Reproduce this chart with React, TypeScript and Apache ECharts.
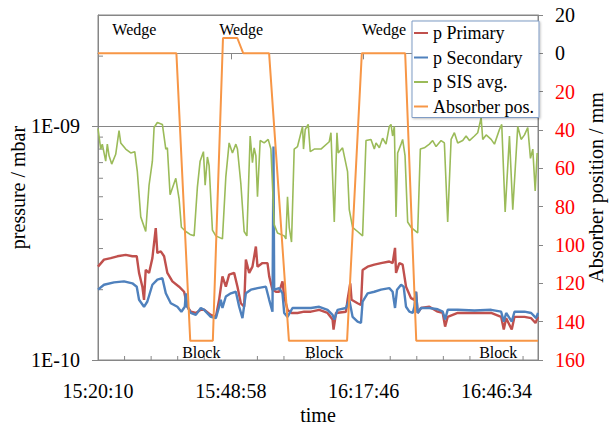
import React, { useEffect, useRef } from "react";
import * as echarts from "echarts";

// time axis: minutes after 15:20:10
const START_SECONDS = 15 * 3600 + 20 * 60 + 10;
const X_MAX = 95.4;
const X_INTERVAL = 28.8;

const seriesNames = ["p Primary", "p Secondary", "p SIS avg.", "Absorber pos."];
const seriesColors = ["#c0504d", "#4f81bd", "#9bbb59", "#f79646"];

// p SIS avg. (mbar)
const sisT = [0, 0.22, 0.59, 0.93, 1.67, 2.02, 2.39, 2.97, 3.84, 4.56, 4.93, 6.01, 7.1, 7.97, 8.53, 9.27, 10.35, 11.07, 11.79, 12.16, 12.87, 13.96, 14.7, 15.04, 15.63, 16.87, 17.58, 18.08, 19.04, 19.97, 20.84, 21.55, 22.14, 22.86, 23.23, 23.72, 24.09, 24.81, 25.55, 26.98, 27.72, 28.43, 29.15, 29.89, 30.24, 30.97, 31.69, 32.28, 32.99, 33.49, 33.86, 34.23, 34.58, 35.16, 36.03, 36.9, 37.49, 38.2, 38.92, 40.37, 40.74, 41.09, 41.46, 41.96, 42.54, 43.26, 44.35, 44.56, 44.93, 45.58, 46.02, 46.89, 48.34, 50.14, 50.51, 51.23, 51.81, 52.09, 53.03, 54.11, 54.48, 55.2, 56.28, 57.37, 58.11, 59.19, 59.91, 60.28, 61.0, 61.71, 62.45, 63.16, 63.53, 63.88, 64.25, 64.62, 64.97, 65.71, 66.05, 66.57, 67.14, 67.87, 69.31, 69.89, 70.76, 71.85, 72.56, 73.3, 74.39, 75.1, 75.82, 76.56, 77.27, 77.99, 79.08, 79.81, 80.53, 81.62, 82.33, 83.07, 83.42, 84.16, 85.24, 85.96, 87.04, 87.54, 88.28, 89.21, 89.93, 91.01, 91.75, 92.47, 93.18, 93.77, 94.27, 94.79, 95.22];
const sisP = [9.8e-10, 9.1e-10, 8.0e-10, 8.4e-10, 7.1e-10, 8.4e-10, 7.5e-10, 6.9e-10, 7.6e-10, 9.6e-10, 8.5e-10, 8.0e-10, 7.7e-10, 7.8e-10, 6.4e-10, 4.1e-10, 3.55e-10, 5.6e-10, 7.1e-10, 9.9e-10, 1.04e-9, 1.02e-9, 8.0e-10, 8.1e-10, 5.1e-10, 6.0e-10, 4.9e-10, 3.7e-10, 3.55e-10, 3.45e-10, 3.4e-10, 5.5e-10, 7.1e-10, 7.8e-10, 5.6e-10, 7.4e-10, 6.8e-10, 3.6e-10, 3.4e-10, 3.3e-10, 6.1e-10, 8.5e-10, 7.7e-10, 8.4e-10, 8.0e-10, 5.7e-10, 3.55e-10, 3.4e-10, 9.1e-10, 7.0e-10, 8.1e-10, 7.5e-10, 5.0e-10, 8.7e-10, 8.5e-10, 8.8e-10, 8.0e-10, 3.8e-10, 3.5e-10, 3.4e-10, 3.3e-10, 5.0e-10, 3.7e-10, 3.2e-10, 8.0e-10, 8.2e-10, 1.0e-9, 8.0e-10, 9.7e-10, 1.02e-9, 7.8e-10, 8.0e-10, 8.0e-10, 8.6e-10, 9.4e-10, 3.9e-10, 9.4e-10, 7.7e-10, 8.1e-10, 6.4e-10, 4.4e-10, 3.7e-10, 3.55e-10, 3.4e-10, 8.7e-10, 8.8e-10, 8.0e-10, 8.5e-10, 8.1e-10, 8.9e-10, 8.4e-10, 1.0e-9, 1.02e-9, 9.1e-10, 1.0e-9, 4.1e-10, 7.7e-10, 8.4e-10, 8.8e-10, 7.5e-10, 3.9e-10, 3.7e-10, 3.5e-10, 8.0e-10, 8.1e-10, 8.4e-10, 8.7e-10, 8.2e-10, 8.7e-10, 8.5e-10, 3.9e-10, 8.8e-10, 9.4e-10, 8.5e-10, 8.7e-10, 9.1e-10, 8.7e-10, 9.1e-10, 9.4e-10, 1.09e-9, 8.8e-10, 9.2e-10, 8.8e-10, 8.4e-10, 9.7e-10, 1.02e-9, 4.3e-10, 9.1e-10, 4.4e-10, 1.0e-9, 8.8e-10, 9.2e-10, 9.9e-10, 7.3e-10, 8.0e-10, 5.3e-10, 7.7e-10];

// p Primary (mbar)
const primT = [0, 1.3, 2.76, 4.19, 6.01, 7.45, 8.4, 8.9, 9.62, 9.98, 10.35, 11.07, 11.79, 12.52, 12.87, 13.61, 14.33, 15.04, 16.13, 17.58, 18.67, 19.38, 20.12, 21.21, 22.29, 23.01, 24.46, 25.55, 26.26, 26.98, 27.72, 28.43, 29.52, 30.24, 30.97, 31.69, 32.06, 32.78, 33.49, 34.23, 34.58, 35.66, 36.75, 37.12, 37.83, 38.57, 39.29, 40.0, 40.37, 41.09, 41.96, 43.26, 44.71, 46.17, 47.97, 49.77, 50.86, 51.07, 51.6, 53.77, 54.11, 54.7, 54.98, 56.28, 57.02, 57.37, 58.46, 59.91, 61.36, 63.16, 63.88, 64.4, 64.62, 65.34, 66.05, 66.79, 67.87, 68.59, 68.96, 69.31, 70.05, 71.85, 73.65, 74.74, 75.26, 75.82, 77.99, 81.62, 85.24, 87.41, 87.98, 88.5, 89.71, 90.3, 92.47, 93.92, 94.86, 95.4];
const primP = [2.51e-10, 2.69e-10, 2.73e-10, 2.78e-10, 2.82e-10, 2.78e-10, 2.78e-10, 2.36e-10, 2.06e-10, 1.81e-10, 2.43e-10, 2.36e-10, 2.73e-10, 3.67e-10, 2.87e-10, 2.92e-10, 2.78e-10, 2.36e-10, 2.17e-10, 2.06e-10, 1.96e-10, 1.69e-10, 1.61e-10, 1.59e-10, 1.64e-10, 1.64e-10, 1.56e-10, 1.53e-10, 1.81e-10, 2.28e-10, 2.06e-10, 2.32e-10, 2.36e-10, 2.06e-10, 1.75e-10, 1.69e-10, 2.69e-10, 2.36e-10, 2.51e-10, 3.06e-10, 2.51e-10, 2.6e-10, 2.6e-10, 2.28e-10, 2.0e-10, 1.96e-10, 1.96e-10, 2.17e-10, 1.87e-10, 1.64e-10, 1.59e-10, 1.59e-10, 1.61e-10, 1.61e-10, 1.64e-10, 1.59e-10, 1.49e-10, 1.35e-10, 1.59e-10, 1.61e-10, 1.81e-10, 2.13e-10, 1.81e-10, 1.75e-10, 1.72e-10, 2.43e-10, 2.51e-10, 2.56e-10, 2.6e-10, 2.64e-10, 2.6e-10, 3.02e-10, 2.36e-10, 2.6e-10, 2.56e-10, 2.06e-10, 1.84e-10, 1.81e-10, 1.96e-10, 1.59e-10, 1.67e-10, 1.69e-10, 1.61e-10, 1.59e-10, 1.39e-10, 1.53e-10, 1.59e-10, 1.59e-10, 1.59e-10, 1.53e-10, 1.35e-10, 1.51e-10, 1.35e-10, 1.53e-10, 1.53e-10, 1.51e-10, 1.44e-10, 1.53e-10];

// p Secondary (mbar)
const secT = [0, 1.3, 3.47, 5.64, 7.45, 8.4, 8.9, 9.98, 10.7, 11.79, 12.87, 13.96, 14.7, 15.78, 17.21, 18.08, 18.82, 19.04, 19.38, 20.12, 21.21, 22.29, 23.01, 24.46, 25.55, 26.26, 26.63, 26.98, 27.72, 28.8, 29.89, 30.61, 31.32, 32.06, 33.15, 34.58, 36.4, 37.12, 37.83, 38.05, 38.2, 39.29, 40.0, 40.37, 41.09, 42.17, 43.99, 46.17, 47.97, 49.77, 50.86, 51.23, 51.94, 53.77, 54.48, 55.2, 56.28, 57.02, 57.37, 58.46, 59.91, 61.36, 63.16, 63.88, 64.4, 64.84, 65.71, 66.27, 66.79, 67.51, 68.23, 68.59, 68.96, 69.31, 70.05, 71.85, 73.65, 74.74, 75.26, 75.82, 77.99, 81.62, 85.24, 87.41, 87.98, 88.5, 89.71, 90.3, 92.47, 93.92, 95.0, 95.4];
const secP = [2.0e-10, 2.1e-10, 2.15e-10, 2.17e-10, 2.13e-10, 2.06e-10, 1.81e-10, 1.69e-10, 1.78e-10, 2.1e-10, 2.21e-10, 2.24e-10, 1.93e-10, 1.75e-10, 1.69e-10, 1.61e-10, 1.69e-10, 1.93e-10, 1.69e-10, 1.59e-10, 1.56e-10, 1.67e-10, 1.64e-10, 1.53e-10, 1.51e-10, 1.69e-10, 1.81e-10, 1.67e-10, 1.87e-10, 1.93e-10, 1.96e-10, 1.69e-10, 1.51e-10, 1.93e-10, 2.0e-10, 2.03e-10, 2.06e-10, 1.81e-10, 1.61e-10, 8.2e-10, 2.0e-10, 2.03e-10, 1.93e-10, 1.59e-10, 1.53e-10, 1.67e-10, 1.67e-10, 1.67e-10, 1.69e-10, 1.64e-10, 1.56e-10, 1.49e-10, 1.64e-10, 1.67e-10, 1.81e-10, 1.53e-10, 1.46e-10, 1.44e-10, 1.78e-10, 1.93e-10, 1.96e-10, 2.0e-10, 2.03e-10, 1.96e-10, 1.67e-10, 2.0e-10, 2.1e-10, 2.06e-10, 1.69e-10, 1.61e-10, 1.59e-10, 1.69e-10, 1.96e-10, 1.59e-10, 1.67e-10, 1.67e-10, 1.65e-10, 1.61e-10, 1.49e-10, 1.64e-10, 1.64e-10, 1.63e-10, 1.64e-10, 1.61e-10, 1.46e-10, 1.59e-10, 1.46e-10, 1.61e-10, 1.61e-10, 1.59e-10, 1.51e-10, 1.59e-10];

// Absorber position (mm)
const absT = [0, 17.0, 20.0, 24.9, 27.1, 30.2, 31.5, 37.1, 41.4, 54.0, 57.2, 66.6, 69.0, 95.4];
const absV = [0, 0, 150, 150, -8, -8, 0, 0, 150, 150, 0, 0, 150, 150];

// annotations (time in minutes, absorber position in mm)
const annoText = ["Wedge", "Wedge", "Wedge", "Block", "Block", "Block"];
const annoT = [7.88, 31.04, 62.01, 22.4, 49.01, 86.78];
const annoPos = [-12.4, -12.4, -12.4, 156.3, 156.3, 156.3];

const LOG_MIN = 1e-10;
const LOG_MAX = 3e-9;
const RIGHT_MIN = -20;
const RIGHT_MAX = 160;
const RIGHT_INTERVAL = 20;

const AXIS_GRAY = "#868686";
const FONT = '"Liberation Serif", serif';

function pairs(t: number[], v: number[]) {
  return t.map((x, i) => [x, v[i]]);
}

function fmtTime(min: number): string {
  const s = Math.round(START_SECONDS + min * 60);
  const hh = Math.floor(s / 3600);
  const mm = Math.floor((s % 3600) / 60);
  const ss = s % 60;
  const p = (n: number) => String(n).padStart(2, "0");
  return `${hh}:${p(mm)}:${p(ss)}`;
}

function fmtExp(v: number): string {
  const e = Math.round(Math.log10(v));
  const m = v / Math.pow(10, e);
  const sign = e < 0 ? "-" : "+";
  return `${Math.round(m)}E${sign}${String(Math.abs(e)).padStart(2, "0")}`;
}

// minor tick positions derived from the axes
function logMinorTicks(): number[] {
  const out: number[] = [];
  for (let d = -10; d <= -9; d++) {
    for (let m = 2; m <= 9; m++) {
      const v = m * Math.pow(10, d);
      if (v < LOG_MAX * 0.999) out.push(v);
    }
  }
  return out;
}
function xMinorTicks(): number[] {
  const out: number[] = [];
  const step = X_INTERVAL / 5;
  for (let k = 1; k * step < X_MAX; k++) {
    if (k % 5 !== 0) out.push(k * step);
  }
  return out;
}

const labelFont = { fontFamily: FONT, fontSize: 20, fontWeight: "normal" as const };

export default function App() {
  const ref = useRef<HTMLDivElement>(null);

  useEffect(() => {
    if (!ref.current) return;
    const chart = echarts.init(ref.current, undefined, { renderer: "svg" });

    const lineSeries = [
      { name: seriesNames[0], data: pairs(primT, primP), yAxisIndex: 0, width: 2.4 },
      { name: seriesNames[1], data: pairs(secT, secP), yAxisIndex: 0, width: 2.4 },
      { name: seriesNames[2], data: pairs(sisT, sisP), yAxisIndex: 0, width: 1.6 },
    ].map((s, i) => ({
      name: s.name,
      type: "line",
      xAxisIndex: 0,
      yAxisIndex: s.yAxisIndex,
      data: s.data,
      symbol: "none",
      showSymbol: false,
      lineStyle: { color: seriesColors[i], width: s.width },
      itemStyle: { color: seriesColors[i] },
      z: 2 + i,
    }));

    const option: any = {
      animation: false,
      textStyle: { fontFamily: FONT },
      grid: {
        left: 98,
        right: 72,
        top: 15,
        bottom: 66,
        outerBoundsMode: "none",
        containLabel: false,
        show: true,
        borderColor: AXIS_GRAY,
        borderWidth: 1,
        backgroundColor: "transparent",
      },
      legend: {
        data: seriesNames,
        orient: "vertical",
        left: 412,
        top: 21,
        backgroundColor: "#ffffff",
        borderColor: "#7f9cc5",
        borderWidth: 1,
        shadowColor: "rgba(0,0,0,0.25)",
        shadowBlur: 2,
        shadowOffsetX: 1,
        shadowOffsetY: 1,
        padding: [3, 5, 2, 2],
        itemGap: 6.5,
        itemWidth: 14,
        itemHeight: 2,
        icon: "rect",
        textStyle: { fontFamily: FONT, fontSize: 18, color: "#000" },
        z: 10,
      },
      xAxis: {
        type: "value",
        min: 0,
        max: X_MAX,
        interval: X_INTERVAL,
        position: "bottom",
        axisLine: { show: true, lineStyle: { color: AXIS_GRAY } },
        axisTick: { show: true, length: 6, lineStyle: { color: AXIS_GRAY } },
        axisLabel: {
          ...labelFont,
          formatter: (v: number) => fmtTime(v),
          showMaxLabel: false,
          color: "#000",
          margin: 21,
        },
        splitLine: { show: false },
        name: "time",
        nameLocation: "middle",
        nameGap: 45,
        nameMoveOverlap: false,
        nameTextStyle: { ...labelFont, color: "#000" },
      },
      yAxis: [
        {
          type: "log",
          logBase: 10,
          min: LOG_MIN,
          max: LOG_MAX,
          position: "left",
          axisLine: { show: true, lineStyle: { color: AXIS_GRAY } },
          axisTick: { show: true, length: 6, lineStyle: { color: AXIS_GRAY } },
          axisLabel: {
            ...labelFont,
            formatter: (v: number) => fmtExp(v),
            showMaxLabel: false,
            verticalAlign: "middle",
            verticalAlignMinLabel: "middle",
            color: "#000",
            margin: 18,
          },
          splitLine: { show: true, lineStyle: { color: AXIS_GRAY, width: 1 } },
          name: "pressure / mbar",
          nameLocation: "middle",
          nameGap: 70,
          nameRotate: 90,
          nameMoveOverlap: false,
          nameTextStyle: { ...labelFont, color: "#000" },
        },
        {
          type: "value",
          inverse: true,
          min: RIGHT_MIN,
          max: RIGHT_MAX,
          interval: RIGHT_INTERVAL,
          position: "right",
          axisLine: { show: true, lineStyle: { color: AXIS_GRAY } },
          axisTick: { show: true, length: 5, lineStyle: { color: AXIS_GRAY } },
          axisLabel: {
            ...labelFont,
            formatter: (v: number) => String(Math.abs(v)),
            color: (v: any) => (parseFloat(v) <= 0 ? "#000000" : "#ff0000"),
            verticalAlign: "middle",
            verticalAlignMinLabel: "middle",
            verticalAlignMaxLabel: "middle",
            margin: 17,
          },
          splitLine: { show: false },
          name: "Absorber position / mm",
          nameLocation: "middle",
          nameGap: 48,
          nameRotate: 90,
          nameMoveOverlap: false,
          nameTextStyle: { ...labelFont, color: "#000" },
        },
      ],
      series: [
        ...lineSeries,
        {
          name: seriesNames[3],
          type: "line",
          xAxisIndex: 0,
          yAxisIndex: 1,
          data: pairs(absT, absV),
          symbol: "none",
          showSymbol: false,
          lineStyle: { color: seriesColors[3], width: 2 },
          itemStyle: { color: seriesColors[3] },
          z: 6,
          markPoint: {
            symbol: "rect",
            symbolSize: 1,
            silent: true,
            itemStyle: { color: "rgba(0,0,0,0)" },
            label: {
              show: true,
              position: "inside",
              formatter: "{b}",
              color: "#000",
              fontSize: 16,
              fontFamily: FONT,
            },
            data: annoText.map((n, i) => ({ name: n, coord: [annoT[i], annoPos[i]] })),
          },
        },
        {
          name: "yMinor",
          type: "custom",
          xAxisIndex: 0,
          yAxisIndex: 0,
          silent: true,
          clip: false,
          z: 1,
          data: logMinorTicks().map((p) => [0, p]),
          renderItem: (_params: any, api: any) => {
            const pt = api.coord([api.value(0), api.value(1)]);
            return {
              type: "line",
              shape: { x1: pt[0], y1: pt[1], x2: pt[0] + 5, y2: pt[1] },
              style: { stroke: AXIS_GRAY, lineWidth: 1 },
            };
          },
        },
        {
          name: "xMinor",
          type: "custom",
          xAxisIndex: 0,
          yAxisIndex: 0,
          silent: true,
          clip: false,
          z: 1,
          data: xMinorTicks().map((t) => [t, LOG_MIN]),
          renderItem: (_params: any, api: any) => {
            const pt = api.coord([api.value(0), api.value(1)]);
            return {
              type: "line",
              shape: { x1: pt[0], y1: pt[1], x2: pt[0], y2: pt[1] - 4 },
              style: { stroke: AXIS_GRAY, lineWidth: 1 },
            };
          },
        },
      ],
    };

    chart.setOption(option);
    return () => {
      chart.dispose();
    };
  }, []);

  return (
    <div
      ref={ref}
      style={{ position: "absolute", left: 0, top: 0, width: 610, height: 426, background: "#fff" }}
    />
  );
}
